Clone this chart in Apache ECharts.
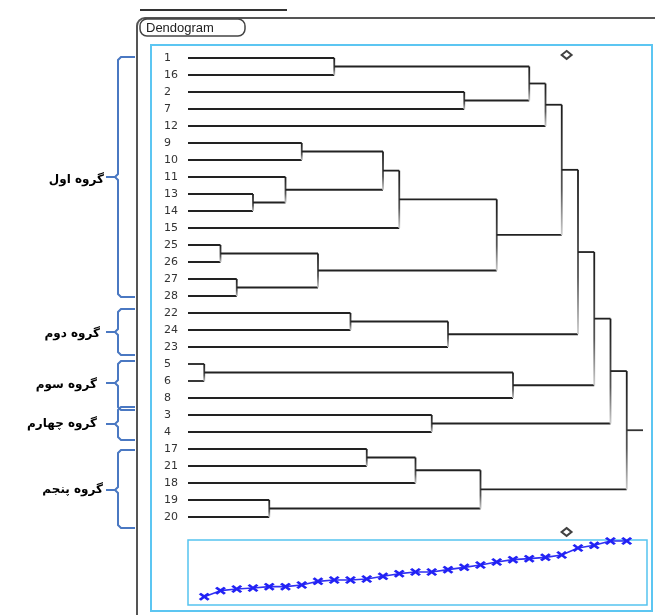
<!DOCTYPE html>
<html><head><meta charset="utf-8">
<script src="https://cdn.jsdelivr.net/npm/echarts@6/dist/echarts.min.js"></script>
<style>html,body{margin:0;padding:0;background:#fff}#c{width:655px;height:615px}</style>
</head><body><div id="c"></div>
<script>
// leaves in display order (top to bottom)
const leafLabels = ['1','16','2','7','12','9','10','11','13','14','15','25','26','27','28','22','24','23','5','6','8','3','4','17','21','18','19','20'];
// agglomeration steps: children are leaf labels or 'n<k>' (k = 1-based step)
const mergeA = ['5','25','27','13','19','11','9','n2','1','22','17','n7','n12','n11','3','n10','2','n14','n13','n1','n9','n21','n22','n23','n24','n25','n26'];
const mergeB = ['6','26','28','14','20','n4','10','n3','16','24','21','n6','15','18','4','23','7','n5','n8','8','n17','12','n19','n16','n20','n15','n18'];
// level (position) of each step in the dendrogram
const mergeLevel = [1,2,3,4,5,6,7,8,9,10,11,12,13,14,15,16,17,18,19,20,21,22,23,24,25,26,27];
// dissimilarity of each step (lower level plot)
const mergeDissim = [2.5,4.3,4.8,5.1,5.5,5.5,6.0,7.1,7.5,7.5,7.8,8.6,9.4,9.9,9.9,10.6,11.3,12.0,12.9,13.6,13.9,14.3,15.0,17.1,17.9,19.2,19.2];
const rootStubLevel = [28];
const cutLevel = [23.3];
const groupNames = ['گروه اول','گروه دوم','گروه سوم','گروه چهارم','گروه پنجم'];
const titleText = 'Dendogram';

// build node geometry
const nodes = {};
leafLabels.forEach((l,i)=>{ nodes[l] = {y:i, h:0}; });
const mergeData = [];
for (let k=0;k<mergeA.length;k++){
  const a = nodes[mergeA[k]], b = nodes[mergeB[k]];
  const n = {y:(a.y+b.y)/2, h:mergeLevel[k]};
  nodes['n'+(k+1)] = n;
  mergeData.push([a.h, a.y, b.h, b.y, n.h]);
}
const root = nodes['n'+mergeA.length];

const chart = echarts.init(document.getElementById('c'));

const xSym = 'path://M0,2L2,0L5,3L8,0L10,2L7,5L10,8L8,10L5,7L2,10L0,8L3,5Z';

function bracePoints(t,b,m){
  const sx=118, hx=135, tx=106, r=3;
  return [[hx,t],[sx+r,t],[sx,t+r],[sx,m-r],[sx-r,m],[tx,m],[sx-r,m],[sx,m+r],[sx,b-r],[sx+r,b],[hx,b]];
}
const braces = [[57,297,177],[309,355,332],[361,410,383],[407,440,424],[450,528,490]];
const labelPos = [[104,180],[100,334],[97,385],[97,424],[103,490]];

const graphics = [
  {type:'line', shape:{x1:140,y1:10,x2:287,y2:10}, style:{stroke:'#333',lineWidth:2}},
  {type:'rect', shape:{x:137,y:18,width:560,height:640,r:8}, style:{stroke:'#555',lineWidth:2,fill:null}},
  {type:'rect', shape:{x:151,y:45,width:501,height:566}, style:{stroke:'#5cc6f2',lineWidth:2,fill:null}},
  {type:'rect', shape:{x:140,y:19,width:105,height:17,r:7}, style:{stroke:'#444',lineWidth:1.5,fill:'#fff'}},
  {type:'text', x:146, y:28, style:{text:titleText, font:'13px "Liberation Sans", Arial', fill:'#222', verticalAlign:'middle'}}
];
braces.forEach(([t,b,m])=>{
  graphics.push({type:'polyline', shape:{points:bracePoints(t,b,m)}, style:{stroke:'#4a78c2',lineWidth:2,fill:null}});
});
groupNames.forEach((g,i)=>{
  graphics.push({type:'text', x:labelPos[i][0], y:labelPos[i][1], style:{text:g, font:'bold 12px "DejaVu Sans"', fill:'#000', align:'right', verticalAlign:'middle'}});
});

chart.setOption({
  animation:false,
  backgroundColor:'#fff',
  graphic: graphics,
  grid:[
    {left:188, right:12, top:58, height:459},
    {left:188, right:8, top:540, height:65, show:true, borderColor:'#55c4f0', borderWidth:1.5, backgroundColor:'#fff'}
  ],
  xAxis:[
    {gridIndex:0, type:'value', min:0, max:28, show:false},
    {gridIndex:1, type:'value', min:0, max:28.25, show:false}
  ],
  yAxis:[
    {gridIndex:0, type:'value', inverse:true, min:0, max:27, interval:1,
     axisLine:{show:false}, axisTick:{show:false}, splitLine:{show:false},
     axisLabel:{formatter:v=>leafLabels[v]||'', align:'left', margin:24, fontSize:11, color:'#333', fontFamily:'DejaVu Sans'}},
    {gridIndex:1, type:'value', min:0, max:19.5, show:false}
  ],
  series:[
    {type:'custom', xAxisIndex:0, yAxisIndex:0, data:mergeData, clip:false,
     renderItem:function(params, api){
       const hA=api.value(0), yA=api.value(1), hB=api.value(2), yB=api.value(3), h=api.value(4);
       const a0=api.coord([hA,yA]), a1=api.coord([h,yA]), b0=api.coord([hB,yB]), b1=api.coord([h,yB]);
       const top=Math.min(a1[1],b1[1]), bot=Math.max(a1[1],b1[1]);
       return {type:'group', children:[
         {type:'line', shape:{x1:a0[0],y1:a0[1],x2:a1[0],y2:a1[1]}, style:{stroke:'#222',lineWidth:1.8}},
         {type:'line', shape:{x1:b0[0],y1:b0[1],x2:b1[0],y2:b1[1]}, style:{stroke:'#222',lineWidth:1.8}},
         {type:'line', shape:{x1:a1[0],y1:top,x2:a1[0],y2:bot}, style:{lineWidth:1.8,
           stroke:new echarts.graphic.LinearGradient(0,0,0,1,[{offset:0,color:'#1a1a1a'},{offset:0.65,color:'#555'},{offset:1,color:'#d0d0d0'}])}}
       ]};
     }},
    {type:'line', xAxisIndex:0, yAxisIndex:0, data:[[root.h, root.y],[rootStubLevel[0], root.y]],
     symbol:'none', lineStyle:{color:'#333', width:1.8}, clip:false},
    {type:'scatter', xAxisIndex:0, yAxisIndex:0, data:[[cutLevel[0], -0.18]], clip:false,
     symbol:'diamond', symbolSize:[10,8], itemStyle:{color:'#fff', borderColor:'#111', borderWidth:2}},
    {type:'line', xAxisIndex:1, yAxisIndex:1, data:mergeLevel.map((l,i)=>[l, mergeDissim[i]]),
     symbol:xSym, symbolSize:[11,8], showAllSymbol:true, clip:false,
     lineStyle:{color:'#3030f2', width:1.6}, itemStyle:{color:'#2222f5'}},
    {type:'scatter', xAxisIndex:1, yAxisIndex:1, data:[[cutLevel[0], 21.9]], clip:false,
     symbol:'diamond', symbolSize:[10,8], itemStyle:{color:'#fff', borderColor:'#111', borderWidth:2}}
  ]
});
</script></body></html>
